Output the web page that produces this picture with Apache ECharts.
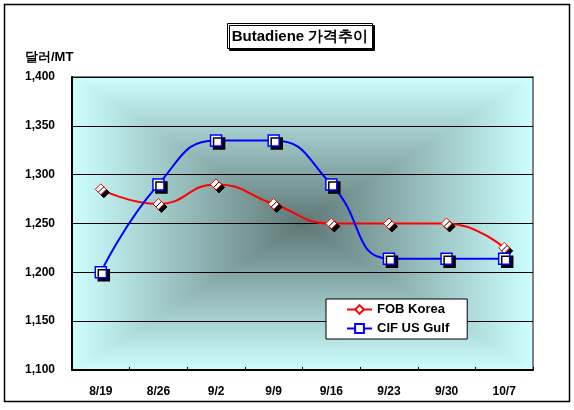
<!DOCTYPE html>
<html>
<head>
<meta charset="utf-8">
<script src="https://cdn.jsdelivr.net/npm/echarts@6/dist/echarts.min.js"></script>
<style>
html,body{margin:0;padding:0;background:#fff;}
#main{width:574px;height:410px;}
</style>
</head>
<body>
<div id="main"></div>
<script>
var categories = ['8/19','8/26','9/2','9/9','9/16','9/23','9/30','10/7'];
var fobKorea = [1285, 1270, 1290, 1270, 1250, 1250, 1250, 1225];
var cifUsGulf = [1200, 1290, 1335, 1335, 1290, 1214, 1214, 1214];
var yTicks = {min: 1100, max: 1400, interval: 50};

var G = {left: 72, top: 77, right: 41, bottom: 40};
var W = 574, H = 410;
var x0 = G.left, y0 = G.top, x1 = W - G.right, y1 = H - G.bottom;
var cx = (x0 + x1) / 2, cy = (y0 + y1) / 2;
var DARK = '#5e7775', LIGHT = '#ccffff';
function lg(x, y, x2, y2) {
  return {type: 'linear', x: x, y: y, x2: x2, y2: y2,
    colorStops: [{offset: 0, color: DARK}, {offset: 1, color: LIGHT}]};
}
var font = '"Liberation Sans", Arial, sans-serif';

var chart = echarts.init(document.getElementById('main'));
chart.setOption({
  animation: false,
  backgroundColor: '#ffffff',
  grid: {left: G.left, top: G.top, right: G.right, bottom: G.bottom, containLabel: false},
  graphic: [
    {type: 'rect', z: -5, silent: true, shape: {x: 4.5, y: 4.5, width: 565, height: 397},
      style: {fill: '#fff', stroke: '#000', lineWidth: 1.5}},
    {type: 'rect', z: -4, silent: true, shape: {x: x0, y: y0, width: x1 - x0, height: y1 - y0},
      style: {fill: {type: 'radial', x: 0.5, y: 0.5, r: 0.85,
        colorStops: [{offset: 0, color: DARK}, {offset: 1, color: LIGHT}]}}},
    {type: 'polygon', z: -3, silent: true, shape: {points: [[x0, y0], [x1, y0], [cx, cy]]},
      style: {fill: lg(0, 1, 0, 0)}},
    {type: 'polygon', z: -3, silent: true, shape: {points: [[x0, y1], [x1, y1], [cx, cy]]},
      style: {fill: lg(0, 0, 0, 1)}},
    {type: 'polygon', z: -3, silent: true, shape: {points: [[x0, y0], [x0, y1], [cx, cy]]},
      style: {fill: lg(1, 0, 0, 0)}},
    {type: 'polygon', z: -3, silent: true, shape: {points: [[x1, y0], [x1, y1], [cx, cy]]},
      style: {fill: lg(0, 0, 1, 0)}},
    {type: 'polyline', z: -2, silent: true, shape: {points: [[x0, y0], [x1, y0], [x1, y1]]},
      style: {stroke: '#808080', lineWidth: 2, fill: null}},
    {type: 'rect', silent: true, z: 10, shape: {x: 227.5, y: 23.5, width: 145, height: 25},
      style: {fill: '#fff', stroke: '#000', lineWidth: 1, shadowColor: '#000', shadowOffsetX: 2, shadowOffsetY: 2, shadowBlur: 0}},
    {type: 'text', silent: true, z: 11, x: 300, y: 36.5,
      style: {text: 'Butadiene 가격추이', font: 'bold 15px ' + font, fill: '#000', align: 'center', verticalAlign: 'middle'}},
    {type: 'text', silent: true, z: 11, x: 25, y: 57,
      style: {text: '달러/MT', font: 'bold 13px ' + font, fill: '#000', align: 'left', verticalAlign: 'middle'}}
  ],
  legend: {
    orient: 'vertical',
    left: 326, top: 299,
    backgroundColor: '#ffffff',
    borderColor: '#000',
    borderWidth: 1,
    padding: [4, 18, 4, 20],
    itemGap: 6,
    itemWidth: 25,
    itemHeight: 11,
    textStyle: {fontFamily: font, fontWeight: 'bold', fontSize: 13, color: '#000'},
    itemStyle: {shadowBlur: 0, shadowOffsetX: 0, shadowOffsetY: 0, shadowColor: 'transparent'},
    data: ['FOB Korea', 'CIF US Gulf']
  },
  xAxis: {
    type: 'category',
    data: categories,
    boundaryGap: true,
    axisLine: {show: true, lineStyle: {color: '#000', width: 2}},
    axisTick: {show: true, inside: true, length: 3, lineStyle: {color: '#000'}},
    axisLabel: {margin: 16, fontFamily: font, fontWeight: 'bold', fontSize: 12, color: '#000'},
    splitLine: {show: false}
  },
  yAxis: {
    type: 'value',
    min: yTicks.min, max: yTicks.max, interval: yTicks.interval,
    axisLine: {show: true, lineStyle: {color: '#000', width: 2}},
    axisTick: {show: false},
    axisLabel: {margin: 17, fontFamily: font, fontWeight: 'bold', fontSize: 12, color: '#000',
      formatter: function (v) { return v.toLocaleString('en-US'); }},
    splitLine: {show: true, lineStyle: {color: '#000', width: 1}}
  },
  series: [
    {
      name: 'FOB Korea', type: 'line', data: fobKorea, smooth: true,
      symbol: 'diamond', symbolSize: 11, showAllSymbol: true,
      lineStyle: {color: '#ff0000', width: 2},
      itemStyle: {color: '#ffffff', borderColor: '#ff0000', borderWidth: 1,
        shadowColor: '#000', shadowOffsetX: 3, shadowOffsetY: 3, shadowBlur: 0},
      z: 3
    },
    {
      name: 'CIF US Gulf', type: 'line', data: cifUsGulf, smooth: true,
      symbol: 'rect', symbolSize: 11, showAllSymbol: true,
      lineStyle: {color: '#0000ff', width: 2},
      itemStyle: {color: '#ffffff', borderColor: '#0000ff', borderWidth: 1.5,
        shadowColor: '#000', shadowOffsetX: 3, shadowOffsetY: 3, shadowBlur: 0},
      z: 4
    }
  ]
});
</script>
</body>
</html>
